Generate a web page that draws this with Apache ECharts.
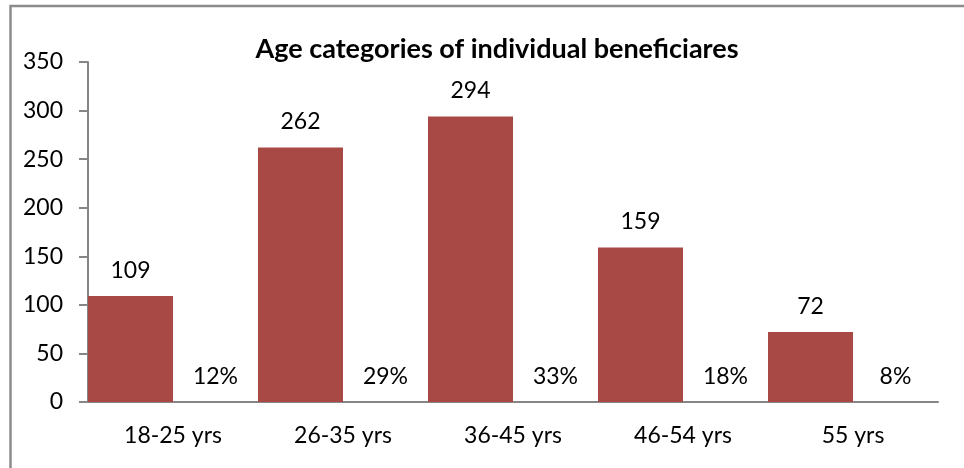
<!DOCTYPE html>
<html>
<head>
<meta charset="utf-8">
<script src="https://cdn.jsdelivr.net/npm/echarts@6/dist/echarts.min.js"></script>
<style>html,body{margin:0;padding:0;background:#fff;}#c{width:964px;height:468px;}</style>
</head>
<body>
<div id="c"></div>
<script>
const categories = ['18-25 yrs', '26-35 yrs', '36-45 yrs', '46-54 yrs', '55 yrs'];
const counts = [109, 262, 294, 159, 72];
const percentLabels = ['12%', '29%', '33%', '18%', '8%'];
const percentValues = [0, 0, 0, 0, 0];
const yTicks = [0, 50, 100, 150, 200, 250, 300, 350];

const FONT = 'Lato';
const LABEL_SIZE = 23;
const chart = echarts.init(document.getElementById('c'), null, {renderer: 'canvas'});
chart.setOption({
  animation: false,
  backgroundColor: '#fff',
  title: {
    text: 'Age categories of individual beneficiares',
    left: 492, top: 31, textAlign: 'center',
    textStyle: {fontFamily: FONT, fontWeight: 'bold', fontSize: 27, color: '#000'}
  },
  graphic: [{
    type: 'polyline',
    shape: {points: [[10.5, 468], [10.5, 6], [964, 6]]},
    style: {stroke: '#8c8c8c', lineWidth: 2.5, fill: null}
  }],
  grid: {left: 88, right: 26, top: 62, bottom: 66, containLabel: false},
  xAxis: {
    type: 'category',
    data: categories,
    axisLine: {lineStyle: {color: '#868686', width: 2}},
    axisTick: {show: false},
    axisLabel: {fontFamily: FONT, fontSize: LABEL_SIZE, color: '#000', margin: 22}
  },
  yAxis: {
    type: 'value',
    min: yTicks[0], max: yTicks[yTicks.length - 1], interval: 50,
    splitLine: {show: false},
    axisLine: {show: true, lineStyle: {color: '#868686', width: 2}},
    axisTick: {show: true, length: 9, lineStyle: {color: '#868686', width: 2}},
    axisLabel: {fontFamily: FONT, fontSize: LABEL_SIZE, color: '#000', margin: 25}
  },
  series: [{
    type: 'bar',
    data: counts,
    barWidth: 85,
    barGap: '0%',
    itemStyle: {color: '#a94946'},
    label: {show: true, position: 'top', distance: 14, fontFamily: FONT, fontSize: LABEL_SIZE, color: '#000'}
  }, {
    type: 'bar',
    data: percentValues,
    barWidth: 85,
    itemStyle: {color: 'transparent'},
    label: {
      show: true, position: 'top', distance: 14, fontFamily: FONT, fontSize: LABEL_SIZE, color: '#000',
      formatter: p => percentLabels[p.dataIndex]
    }
  }]
});
</script>
</body>
</html>
